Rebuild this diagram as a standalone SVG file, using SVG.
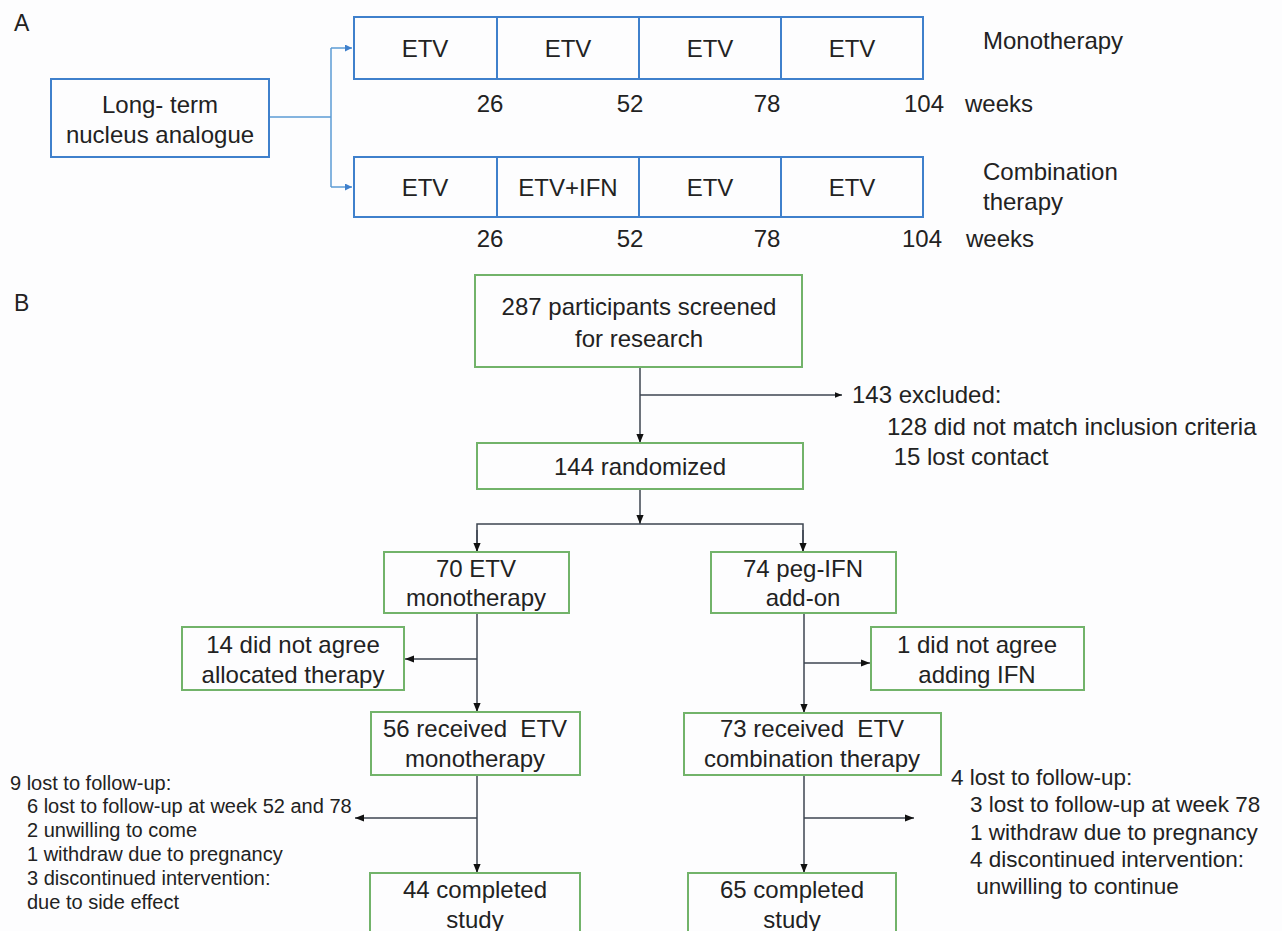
<svg xmlns="http://www.w3.org/2000/svg" width="1282" height="931" viewBox="0 0 1282 931">
<defs>
<style>
text{font-family:"Liberation Sans",Arial,sans-serif;fill:#222;white-space:pre}
.t24{font-size:24px}
.t20{font-size:20px}
.t22{font-size:22.5px}
.lab{font-size:23px}
.c{text-anchor:middle}
.bb{fill:none;stroke:#3f80cc;stroke-width:2}
.gb{fill:none;stroke:#72b36a;stroke-width:2}
.bl{fill:none;stroke:#5b9bd5;stroke-width:1.5}
.kl{fill:none;stroke:#3c4450;stroke-width:1.5}
</style>
<marker id="ab" viewBox="0 0 10 10" refX="10" refY="5" markerWidth="7" markerHeight="7" orient="auto" markerUnits="userSpaceOnUse"><path d="M0,0L10,5L0,10z" fill="#3f80cc"/></marker>
<marker id="ak" viewBox="0 0 10 10" refX="10" refY="5" markerWidth="9" markerHeight="9" orient="auto" markerUnits="userSpaceOnUse"><path d="M0,1L10,5L0,9z" fill="#111"/></marker>
<marker id="aks" viewBox="0 0 10 10" refX="10" refY="5" markerWidth="7" markerHeight="7" orient="auto" markerUnits="userSpaceOnUse"><path d="M0,1L10,5L0,9z" fill="#111"/></marker>
</defs>
<rect width="1282" height="931" fill="#fdfdfe"/>

<text class="lab" x="14" y="31">A</text>
<text class="lab" x="14" y="311">B</text>

<g id="connectors">
<path class="bl" d="M269,117H331"/>
<path class="bl" d="M331,48V187"/>
<path class="bl" d="M331,48H352" marker-end="url(#ab)"/>
<path class="bl" d="M331,187H352" marker-end="url(#ab)"/>
<path class="kl" d="M640,367V443" marker-end="url(#ak)"/>
<path class="kl" d="M640,395H842" marker-end="url(#aks)"/>
<path class="kl" d="M640,489V524" marker-end="url(#ak)"/>
<path class="kl" d="M477,552V524H803V552" />
<path class="kl" d="M477,530V552" marker-end="url(#ak)"/>
<path class="kl" d="M803,530V552" marker-end="url(#ak)"/>
<path class="kl" d="M477,613V712" marker-end="url(#ak)"/>
<path class="kl" d="M477,659H405" marker-end="url(#ak)"/>
<path class="kl" d="M804,613V713" marker-end="url(#ak)"/>
<path class="kl" d="M804,663H870" marker-end="url(#ak)"/>
<path class="kl" d="M477,775V873" marker-end="url(#ak)"/>
<path class="kl" d="M477,818H355" marker-end="url(#ak)"/>
<path class="kl" d="M804,775V873" marker-end="url(#ak)"/>
<path class="kl" d="M804,818H914" marker-end="url(#ak)"/>
</g>

<g id="nucleus">
<rect class="bb" x="51" y="79" width="218" height="78"/>
<text class="t24 c" x="160" y="113">Long- term</text>
<text class="t24 c" x="160" y="143">nucleus analogue</text>
</g>

<g id="mono-bar">
<rect class="bb" x="354" y="17" width="569" height="62"/>
<path class="bb" d="M497,17V79M639,17V79M781,17V79"/>
<text class="t24 c" x="425" y="57">ETV</text>
<text class="t24 c" x="568" y="57">ETV</text>
<text class="t24 c" x="710" y="57">ETV</text>
<text class="t24 c" x="852" y="57">ETV</text>
</g>
<g id="mono-axis">
<text class="t24 c" x="490" y="112">26</text>
<text class="t24 c" x="630" y="112">52</text>
<text class="t24 c" x="767" y="112">78</text>
<text class="t24 c" x="924" y="112">104</text>
<text class="t24" x="965" y="112">weeks</text>
<text class="t24" x="983" y="49">Monotherapy</text>
</g>

<g id="combo-bar">
<rect class="bb" x="354" y="157" width="569" height="60"/>
<path class="bb" d="M497,157V217M639,157V217M781,157V217"/>
<text class="t24 c" x="425" y="196">ETV</text>
<text class="t24 c" x="568" y="196">ETV+IFN</text>
<text class="t24 c" x="710" y="196">ETV</text>
<text class="t24 c" x="852" y="196">ETV</text>
</g>
<g id="combo-axis">
<text class="t24 c" x="490" y="247">26</text>
<text class="t24 c" x="630" y="247">52</text>
<text class="t24 c" x="767" y="247">78</text>
<text class="t24 c" x="922" y="247">104</text>
<text class="t24" x="966" y="247">weeks</text>
<text class="t24" x="983" y="180">Combination</text>
<text class="t24" x="983" y="210">therapy</text>
</g>

<g id="screened">
<rect class="gb" x="475" y="275" width="327" height="92"/>
<text class="t24 c" x="639" y="315">287 participants screened</text>
<text class="t24 c" x="639" y="347">for research</text>
</g>
<g id="excluded">
<text class="t24" x="852" y="403">143 excluded:</text>
<text class="t24" x="887" y="435">128 did not match inclusion criteria</text>
<text class="t24" x="887" y="465"> 15 lost contact</text>
</g>
<g id="randomized">
<rect class="gb" x="477" y="443" width="326" height="46"/>
<text class="t24 c" x="640" y="475">144 randomized</text>
</g>
<g id="etv70">
<rect class="gb" x="384" y="552" width="185" height="61"/>
<text class="t24 c" x="476" y="577">70 ETV</text>
<text class="t24 c" x="476" y="606">monotherapy</text>
</g>
<g id="peg74">
<rect class="gb" x="711" y="552" width="185" height="61"/>
<text class="t24 c" x="803" y="577">74 peg-IFN</text>
<text class="t24 c" x="803" y="606">add-on</text>
</g>
<g id="disagree14">
<rect class="gb" x="182" y="627" width="222" height="63"/>
<text class="t24 c" x="293" y="653">14 did not agree</text>
<text class="t24 c" x="293" y="683">allocated therapy</text>
</g>
<g id="disagree1">
<rect class="gb" x="871" y="627" width="213" height="63"/>
<text class="t24 c" x="977" y="653">1 did not agree</text>
<text class="t24 c" x="977" y="683">adding IFN</text>
</g>
<g id="received56">
<rect class="gb" x="371" y="712" width="209" height="63"/>
<text class="t24 c" x="475" y="737">56 received  ETV</text>
<text class="t24 c" x="475" y="767">monotherapy</text>
</g>
<g id="received73">
<rect class="gb" x="684" y="713" width="257" height="62"/>
<text class="t24 c" x="812" y="737">73 received  ETV</text>
<text class="t24 c" x="812" y="767">combination therapy</text>
</g>
<g id="lost9">
<text class="t20" x="10" y="790">9 lost to follow-up:</text>
<text class="t20" x="27" y="813">6 lost to follow-up at week 52 and 78</text>
<text class="t20" x="27" y="837">2 unwilling to come</text>
<text class="t20" x="27" y="861">1 withdraw due to pregnancy</text>
<text class="t20" x="27" y="885">3 discontinued intervention:</text>
<text class="t20" x="27" y="909">due to side effect</text>
</g>
<g id="lost4">
<text class="t22" x="951" y="785">4 lost to follow-up:</text>
<text class="t22" x="970" y="812">3 lost to follow-up at week 78</text>
<text class="t22" x="970" y="840">1 withdraw due to pregnancy</text>
<text class="t22" x="970" y="867">4 discontinued intervention:</text>
<text class="t22" x="970" y="894"> unwilling to continue</text>
</g>
<g id="completed44">
<rect class="gb" x="370" y="873" width="210" height="70"/>
<text class="t24 c" x="475" y="898">44 completed</text>
<text class="t24 c" x="475" y="928">study</text>
</g>
<g id="completed65">
<rect class="gb" x="688" y="873" width="208" height="70"/>
<text class="t24 c" x="792" y="898">65 completed</text>
<text class="t24 c" x="792" y="928">study</text>
</g>
</svg>
